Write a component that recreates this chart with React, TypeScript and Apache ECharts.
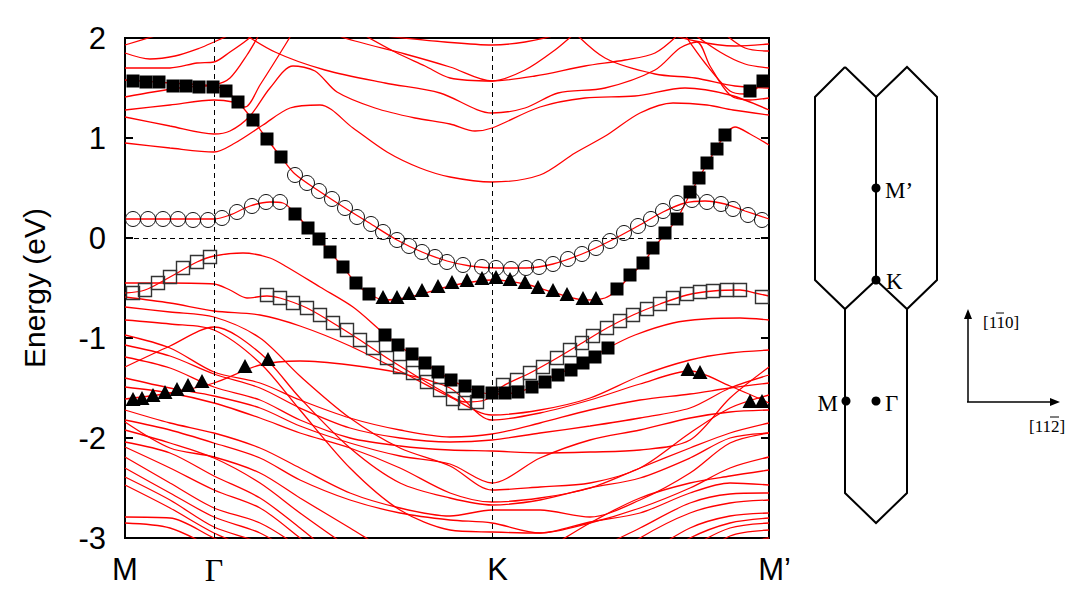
import React, { useEffect, useRef } from 'react';
import * as echarts from 'echarts';

// k-path positions of the high-symmetry points (path length, arb. units)
const K_POINTS = [0, 0.89, 3.67, 6.44];
const K_LABELS = ['M', 'Γ', 'K', 'M’'];
const E_MIN = -3;
const E_MAX = 2;
const E_STEP = 1;

// common k grid for the plain (red) valence bands
const K_GRID = [0, 0.45, 0.89, 1.35, 1.75, 2.25, 2.75, 3.25, 3.67, 4.15, 4.65, 5.15, 5.65, 6.05, 6.44];

// plain valence bands: energies (eV) on K_GRID
const VALENCE_BANDS = [
  [-0.59, -0.65, -0.73, -0.77, -0.88, -1.08, -1.33, -1.59, -1.77, -1.72, -1.6, -1.38, -1.22, -1.15, -1.12],
  [-0.69, -0.74, -0.79, -1.0, -1.38, -1.8, -2.1, -2.28, -2.52, -2.49, -2.45, -2.3, -1.95, -1.7, -1.57],
  [-1.29, -1.08, -0.89, -1.15, -1.6, -2.1, -2.45, -2.6, -2.67, -2.62, -2.5, -2.4, -2.2, -2.0, -1.95],
  [-0.82, -0.86, -0.92, -1.25, -1.72, -2.3, -2.72, -2.92, -2.94, -2.95, -2.84, -2.75, -2.55, -2.45, -2.47],
  [-0.97, -1.1, -1.34, -1.45, -1.62, -1.8, -1.92, -1.99, -1.96, -1.85, -1.72, -1.62, -1.56, -1.5, -1.45],
  [-1.07, -1.18, -1.36, -1.5, -1.7, -1.9, -2.0, -2.04, -2.02, -1.95, -1.88, -1.8, -1.7, -1.5, -1.37],
  [-1.19, -1.3, -1.49, -1.62, -1.82, -2.0, -2.08, -2.12, -2.13, -2.15, -2.14, -2.12, -2.02, -1.6, -1.29],
  [-1.4, -1.5, -1.58, -1.7, -1.88, -2.05, -2.18, -2.26, -2.45, -2.2, -2.02, -1.92, -1.8, -1.74, -1.72],
  [-1.49, -1.55, -1.65, -1.8, -1.95, -2.1, -2.3, -2.55, -2.64, -2.6, -2.5, -2.3, -2.1, -1.95, -1.85],
  [-1.72, -1.85, -1.95, -2.1, -2.3, -2.55, -2.7, -2.78, -2.72, -2.72, -2.79, -2.62, -2.35, -2.05, -1.95],
  [-1.61, -1.55, -1.45, -1.27, -1.23, -1.27, -1.35, -1.5, -1.82, -1.75, -1.62, -1.46, -1.33, -1.48, -1.65],
  [-1.82, -1.92, -2.05, -2.2, -2.42, -2.62, -2.75, -2.82, -2.85, -2.95, -2.85, -2.7, -2.5, -2.3, -2.19],
  [-1.84, -2.1, -2.19, -2.35, -2.6, -2.9, -3.2, -3.4, -3.4, -3.15, -2.85, -2.6, -2.45, -2.38, -2.32],
  [-1.92, -2.05, -2.2, -2.45, -2.75, -3.1, -3.4, -3.6, -3.6, -3.45, -3.15, -2.9, -2.65, -2.56, -2.55],
  [-2.04, -2.15, -2.38, -2.6, -2.9, -3.3, -3.6, -3.7, -3.7, -3.6, -3.35, -3.0, -2.75, -2.65, -2.62],
  [-2.09, -2.3, -2.52, -2.7, -3.0, -3.4, -3.7, -3.8, -3.8, -3.7, -3.5, -3.2, -2.9, -2.78, -2.75],
  [-2.19, -2.45, -2.7, -2.85, -3.1, -3.5, -3.8, -3.9, -3.9, -3.8, -3.6, -3.3, -3.0, -2.85, -2.8],
  [-2.3, -2.55, -2.79, -2.95, -3.2, -3.6, -3.9, -4.0, -4.0, -3.9, -3.7, -3.45, -3.1, -2.9, -2.85],
  [-2.39, -2.62, -2.89, -3.05, -3.3, -3.7, -4.0, -4.1, -4.1, -4.0, -3.8, -3.6, -3.25, -2.98, -2.92],
  [-2.47, -2.7, -2.95, -3.15, -3.4, -3.8, -4.1, -4.2, -4.2, -4.1, -3.9, -3.7, -3.4, -3.1, -3.0],
  [-2.79, -2.8, -3.0, -3.2, -3.5, -3.9, -4.2, -4.3, -4.3, -4.2, -4.0, -3.8, -3.6, -3.5, -3.45],
  [-2.85, -2.9, -3.1, -3.3, -3.6, -4.0, -4.3, -4.4, -4.4, -4.3, -4.1, -3.9, -3.7, -3.6, -3.55],
];

// bands with their own k sampling: [k, E]
const BAND_TOP = [[0, 1.58], [0.45, 1.55], [0.89, 1.52], [1.01, 1.47], [1.13, 1.36], [1.28, 1.18], [1.42, 0.99], [1.56, 0.81], [1.7, 0.64], [1.94, 0.47], [2.2, 0.3], [2.46, 0.14], [2.72, -0.02], [2.97, -0.14], [3.22, -0.23], [3.45, -0.28], [3.71, -0.3], [4.01, -0.3], [4.28, -0.26], [4.57, -0.16], [4.85, -0.03], [5.13, 0.12], [5.38, 0.26], [5.6, 0.35], [5.8, 0.37], [6.0, 0.34], [6.2, 0.27], [6.44, 0.19]];
const BAND_TRI = [[0, 0.19], [0.45, 0.19], [0.89, 0.19], [1.05, 0.23], [1.25, 0.32], [1.45, 0.36], [1.58, 0.35], [1.7, 0.25], [1.83, 0.1], [1.94, -0.01], [2.05, -0.14], [2.18, -0.29], [2.31, -0.45], [2.44, -0.56], [2.6, -0.62], [2.8, -0.6], [3.0, -0.55], [3.3, -0.47], [3.67, -0.42], [4.0, -0.46], [4.3, -0.55], [4.6, -0.62], [4.8, -0.6], [4.92, -0.52], [5.05, -0.38], [5.18, -0.25], [5.28, -0.11], [5.4, 0.04], [5.52, 0.19], [5.65, 0.44], [5.82, 0.74], [6.0, 1.03], [6.1, 1.11], [6.25, 1.04], [6.44, 0.93]];
const BAND_SQ = [[0, -0.55], [0.2, -0.52], [0.45, -0.39], [0.72, -0.24], [0.89, -0.18], [1.18, -0.15], [1.45, -0.2], [1.62, -0.29], [1.95, -0.49], [2.28, -0.69], [2.55, -0.92], [2.73, -1.07], [3.0, -1.25], [3.23, -1.4], [3.45, -1.51], [3.67, -1.56], [3.9, -1.55], [4.07, -1.49], [4.33, -1.36], [4.58, -1.25], [4.83, -1.1], [5.1, -0.97], [5.48, -0.85], [5.8, -0.81], [6.15, -0.8], [6.44, -0.82]];
const BAND_OPEN = [[0, -0.45], [0.45, -0.45], [0.89, -0.46], [1.05, -0.52], [1.22, -0.6], [1.42, -0.58], [1.55, -0.6], [1.82, -0.7], [2.08, -0.85], [2.35, -1.02], [2.62, -1.2], [2.88, -1.36], [3.15, -1.52], [3.4, -1.64], [3.6, -1.62], [3.78, -1.48], [4.05, -1.35], [4.32, -1.2], [4.57, -1.05], [4.82, -0.9], [5.08, -0.77], [5.35, -0.66], [5.62, -0.57], [5.88, -0.53], [6.15, -0.52], [6.3, -0.55], [6.44, -0.58]];
const CONDUCTION_BANDS = [
  [[0, 0.95], [0.45, 0.9], [0.89, 0.86], [1.1, 0.95], [1.38, 1.13], [1.65, 1.3], [1.95, 1.33], [2.28, 1.1], [2.62, 0.86], [2.95, 0.7], [3.25, 0.61], [3.67, 0.56], [4.15, 0.63], [4.5, 0.85], [4.82, 1.03], [5.15, 1.25], [5.48, 1.35], [5.82, 1.33], [6.08, 1.28], [6.44, 1.23]],
  [[0, 1.21], [0.45, 1.12], [0.89, 1.04], [1.05, 1.07], [1.25, 1.22], [1.45, 1.5], [1.68, 1.72], [1.9, 1.67], [2.12, 1.46], [2.5, 1.3], [2.9, 1.2], [3.25, 1.14], [3.5, 1.07], [3.67, 1.1], [4.15, 1.31], [4.6, 1.4], [5.1, 1.42], [5.6, 1.5], [6.05, 1.43], [6.44, 1.28]],
  [[1.1, 2.1], [1.5, 1.86], [2.0, 1.68], [2.6, 1.55], [3.15, 1.45], [3.67, 1.25], [4.0, 1.3], [4.33, 1.45], [4.8, 1.5], [5.3, 1.68], [5.55, 1.9], [5.72, 1.96], [5.85, 1.72], [6.05, 1.43], [6.25, 1.38], [6.44, 1.4]],
  [[0, 1.93], [0.3, 2.02], [0.6, 2.1]],
  [[0, 1.85], [0.25, 1.79], [0.5, 1.82], [0.75, 1.9], [0.89, 1.96], [1.2, 2.1]],
  [[0, 1.7], [0.45, 1.7], [0.72, 1.75], [0.89, 1.76], [1.05, 1.86], [1.22, 1.98], [1.35, 2.1]],
  [[0, 1.41], [0.28, 1.46], [0.62, 1.51], [0.89, 1.53], [1.05, 1.6], [1.22, 1.83], [1.35, 2.05]],
  [[0, 1.28], [0.45, 1.33], [0.89, 1.38], [1.08, 1.36], [1.2, 1.31], [1.35, 1.53], [1.62, 1.96], [1.7, 2.1]],
  [[1.9, 2.1], [2.3, 1.97], [2.8, 1.84], [3.25, 1.71], [3.67, 1.57], [4.0, 1.68], [4.3, 1.88], [4.5, 2.05]],
  [[2.3, 2.08], [2.7, 1.86], [3.0, 1.72], [3.25, 1.6], [3.67, 1.57], [4.1, 1.62], [4.6, 1.72], [5.0, 1.78], [5.3, 1.85], [5.55, 2.05]],
  [[2.6, 2.02], [3.2, 1.96], [3.67, 1.93], [4.0, 1.96], [4.4, 2.05]],
  [[5.3, 2.08], [5.7, 1.97], [6.1, 1.92], [6.44, 1.94]],
  [[5.6, 2.1], [5.95, 1.86], [6.2, 1.74], [6.44, 1.7]],
  [[5.55, 2.1], [5.8, 1.75], [6.05, 1.47], [6.2, 1.44], [6.44, 1.6]],
  [[5.95, 2.08], [6.2, 1.9], [6.44, 1.87]],
  [[4.45, 2.1], [4.8, 1.8], [5.3, 1.64], [5.7, 1.6], [6.1, 1.52], [6.44, 1.5]],
];

// projected weights (markers): [k, E]
const FILLED_SQUARES = [[0.08, 1.57], [0.21, 1.56], [0.34, 1.56], [0.48, 1.52], [0.61, 1.52], [0.74, 1.51], [0.88, 1.51], [1.01, 1.47], [1.13, 1.36], [1.28, 1.18], [1.42, 0.99], [1.56, 0.81],
  [1.7, 0.24], [1.83, 0.1], [1.94, -0.01], [2.05, -0.14], [2.18, -0.29], [2.31, -0.45], [2.44, -0.56],
  [2.6, -0.97], [2.73, -1.07], [2.87, -1.16], [3.0, -1.25], [3.13, -1.34], [3.26, -1.42], [3.4, -1.48], [3.53, -1.54], [3.67, -1.55], [3.8, -1.55], [3.93, -1.54], [4.07, -1.49], [4.2, -1.44], [4.33, -1.37], [4.46, -1.32], [4.58, -1.25], [4.7, -1.19], [4.83, -1.1],
  [4.92, -0.51], [5.05, -0.37], [5.18, -0.25], [5.28, -0.1], [5.4, 0.05], [5.52, 0.19], [5.65, 0.46], [5.74, 0.6], [5.82, 0.75], [5.92, 0.89], [6.0, 1.03],
  [6.25, 1.47], [6.38, 1.57]];
const OPEN_CIRCLES = [[0.08, 0.19], [0.23, 0.19], [0.38, 0.19], [0.53, 0.19], [0.68, 0.18], [0.83, 0.18], [0.97, 0.2], [1.12, 0.26], [1.27, 0.32], [1.41, 0.36], [1.55, 0.36],
  [1.7, 0.63], [1.82, 0.55], [1.94, 0.47], [2.07, 0.39], [2.2, 0.3], [2.32, 0.21], [2.46, 0.14], [2.58, 0.06], [2.72, -0.02], [2.84, -0.08], [2.97, -0.14], [3.1, -0.19], [3.22, -0.24], [3.38, -0.27], [3.57, -0.29], [3.71, -0.3], [3.86, -0.31], [4.01, -0.3], [4.14, -0.29], [4.28, -0.26], [4.43, -0.21], [4.57, -0.16], [4.71, -0.1], [4.85, -0.03], [4.99, 0.05], [5.13, 0.12], [5.26, 0.19], [5.38, 0.27], [5.52, 0.35], [5.67, 0.38], [5.82, 0.36], [5.96, 0.34], [6.08, 0.29], [6.23, 0.23], [6.37, 0.18]];
const OPEN_SQUARES = [[0.08, -0.55], [0.2, -0.52], [0.33, -0.45], [0.45, -0.39], [0.58, -0.3], [0.72, -0.24], [0.85, -0.19],
  [1.42, -0.57], [1.55, -0.6], [1.68, -0.65], [1.82, -0.7], [1.95, -0.77], [2.08, -0.85], [2.22, -0.92], [2.35, -1.02], [2.48, -1.1], [2.62, -1.2], [2.75, -1.29], [2.88, -1.35], [3.02, -1.44], [3.15, -1.52], [3.28, -1.61], [3.4, -1.65], [3.52, -1.64],
  [3.78, -1.47], [3.92, -1.42], [4.05, -1.35], [4.18, -1.29], [4.32, -1.2], [4.45, -1.12], [4.57, -1.05], [4.68, -0.98], [4.82, -0.9], [4.95, -0.83], [5.08, -0.77], [5.22, -0.71], [5.35, -0.66], [5.48, -0.6], [5.62, -0.56], [5.75, -0.54], [5.88, -0.53], [6.02, -0.52], [6.15, -0.52], [6.37, -0.59]];
const TRIANGLES = [[0.08, -1.61], [0.17, -1.6], [0.28, -1.57], [0.4, -1.54], [0.52, -1.51], [0.63, -1.47], [0.77, -1.43], [1.2, -1.28], [1.43, -1.21],
  [2.58, -0.59], [2.72, -0.59], [2.84, -0.55], [2.97, -0.52], [3.13, -0.48], [3.27, -0.44], [3.42, -0.42], [3.57, -0.4], [3.71, -0.39], [3.85, -0.41], [4.0, -0.44], [4.13, -0.49], [4.28, -0.52], [4.42, -0.56], [4.58, -0.6], [4.71, -0.6],
  [5.63, -1.31], [5.75, -1.34], [6.25, -1.63], [6.37, -1.63]];

const RED = '#ff0000';
const SANS = 'Liberation Sans, Arial, sans-serif';
const SERIF = 'Liberation Serif, Times New Roman, serif';

function bzGraphics(): any[] {
  const stroke = { stroke: '#000', lineWidth: 2, fill: 'none' };
  const dot = (x: number, y: number) => ({ type: 'circle', shape: { cx: x, cy: y, r: 4.5 }, style: { fill: '#000' } });
  const label = (x: number, y: number, text: string, align: string, size = 23) => ({
    type: 'text', x, y, style: { text, fill: '#000', font: `${size}px ${SERIF}`, align, verticalAlign: 'middle' },
  });
  return [
    { type: 'polyline', shape: { points: [[845, 67], [876, 97], [876, 280], [845, 309], [815, 280], [815, 97], [845, 67]] }, style: stroke },
    { type: 'polyline', shape: { points: [[876, 97], [907, 67], [937, 97], [937, 280], [907, 309], [876, 280]] }, style: stroke },
    { type: 'polyline', shape: { points: [[845, 309], [845, 493], [876, 523], [907, 493], [907, 309]] }, style: stroke },
    dot(876, 188), dot(876, 280), dot(846, 401), dot(876, 401),
    label(885, 190, 'M’', 'left'),
    label(886, 281, 'K', 'left'),
    label(838, 403, 'M', 'right'),
    label(885, 403, 'Γ', 'left'),
    { type: 'line', shape: { x1: 968, y1: 402, x2: 968, y2: 318 }, style: { stroke: '#000', lineWidth: 1.5 } },
    { type: 'polygon', shape: { points: [[968, 309], [964, 319], [972, 319]] }, style: { fill: '#000' } },
    { type: 'line', shape: { x1: 967, y1: 402, x2: 1051, y2: 402 }, style: { stroke: '#000', lineWidth: 1.5 } },
    { type: 'polygon', shape: { points: [[1060, 402], [1050, 398], [1050, 406]] }, style: { fill: '#000' } },
    label(983, 322, '[110]', 'left', 17),
    { type: 'line', shape: { x1: 996, y1: 313, x2: 1004, y2: 313 }, style: { stroke: '#000', lineWidth: 1 } },
    label(1029, 426, '[112]', 'left', 17),
    { type: 'line', shape: { x1: 1050, y1: 417, x2: 1059, y2: 417 }, style: { stroke: '#000', lineWidth: 1 } },
  ];
}

export default function App() {
  const ref = useRef<HTMLDivElement>(null);
  useEffect(() => {
    document.body.style.margin = '0';
    if (!ref.current) return;
    const chart = echarts.init(ref.current, undefined, { renderer: 'svg' });
    const gridBands = VALENCE_BANDS.map((b) => K_GRID.map((k, i) => [k, b[i]]));
    const allBands = [...gridBands, ...CONDUCTION_BANDS, BAND_TOP, BAND_TRI, BAND_SQ, BAND_OPEN];
    const lineSeries = allBands.map((data, i) => ({
      type: 'line', data, smooth: 0.3, symbol: 'none', silent: true, clip: true, z: 2,
      lineStyle: { color: RED, width: 1.3 },
      ...(i === 0 ? {
        markLine: {
          silent: true, symbol: 'none', label: { show: false },
          lineStyle: { color: '#000', type: [5, 4], width: 1 },
          data: [{ xAxis: K_POINTS[1] }, { xAxis: K_POINTS[2] }, { yAxis: 0 }],
        },
      } : {}),
    }));
    const scatter = (data: number[][], symbol: string, size: any, itemStyle: any) => ({
      type: 'scatter', data, symbol, symbolSize: size, silent: true, z: 5, itemStyle: { opacity: 1, ...itemStyle },
    });
    const option: any = {
      animation: false,
      backgroundColor: '#fff',
      grid: { left: 125, top: 38, width: 644, height: 500, show: true, borderColor: '#000', borderWidth: 2, backgroundColor: 'transparent' },
      xAxis: {
        type: 'value', min: K_POINTS[0], max: K_POINTS[3],
        axisLine: { show: false }, axisTick: { show: false }, splitLine: { show: false },
        axisLabel: {
          customValues: K_POINTS, showMinLabel: true, showMaxLabel: true, margin: 16,
          formatter: (v: number) => {
            const i = K_POINTS.findIndex((p) => Math.abs(p - v) < 1e-6);
            const t = K_LABELS[i] ?? '';
            if (i === 1) return `{g|${t}}`;
            if (i >= 2) return `{s|${t}}`;
            return `{n|${t}}`;
          },
          rich: {
            n: { fontFamily: SANS, fontSize: 31, color: '#000' },
            s: { fontFamily: SANS, fontSize: 31, color: '#000', padding: [0, 0, 0, 11] },
            g: { fontFamily: SERIF, fontSize: 32, color: '#000' },
          },
        },
      },
      yAxis: [
        {
          type: 'value', min: E_MIN, max: E_MAX, interval: E_STEP, position: 'left',
          name: 'Energy (eV)', nameLocation: 'middle', nameGap: 76, nameRotate: 90,
          nameTextStyle: { fontFamily: SANS, fontSize: 30, color: '#000' },
          axisLine: { show: false }, splitLine: { show: false },
          axisTick: { show: true, inside: true, length: 8, lineStyle: { color: '#000', width: 2 } },
          axisLabel: { fontFamily: SANS, fontSize: 31, color: '#000', margin: 19 },
        },
        {
          type: 'value', min: E_MIN, max: E_MAX, interval: E_STEP, position: 'right',
          axisLine: { show: false }, splitLine: { show: false }, axisLabel: { show: false },
          axisTick: { show: true, inside: true, length: 8, lineStyle: { color: '#000', width: 2 } },
        },
      ],
      series: [
        ...lineSeries,
        scatter(OPEN_SQUARES, 'rect', 13, { color: 'rgba(0,0,0,0)', borderColor: '#333', borderWidth: 1.4 }),
        scatter(OPEN_CIRCLES, 'circle', 15, { color: 'rgba(0,0,0,0)', borderColor: '#111', borderWidth: 1 }),
        scatter(FILLED_SQUARES, 'rect', 13, { color: '#000' }),
        scatter(TRIANGLES, 'triangle', [15, 14], { color: '#000' }),
      ],
      graphic: bzGraphics(),
    };
    chart.setOption(option);
    return () => chart.dispose();
  }, []);
  return <div ref={ref} style={{ width: 1070, height: 600 }} />;
}
